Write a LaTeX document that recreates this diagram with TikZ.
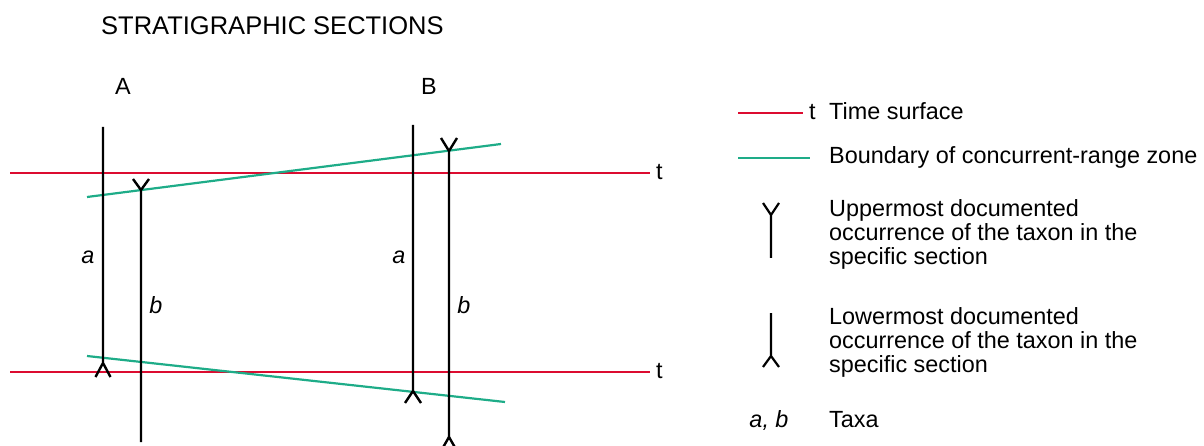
\documentclass[tikz,border=0pt]{standalone}
\usepackage{fontspec}
\setmainfont{Liberation Sans}
\definecolor{tred}{RGB}{220,12,48}
\definecolor{tgreen}{RGB}{30,172,136}
\begin{document}
\begin{tikzpicture}[x=1pt,y=-1pt,
  sect/.style={draw=black,line width=2.4pt},
  tline/.style={draw=tred,line width=2.2pt},
  bline/.style={draw=tgreen,line width=2.2pt},
  lbl/.style={inner sep=0pt,font=\fontsize{23.4}{24}\selectfont},
  tax/.style={lbl,font=\fontsize{23.4}{24}\selectfont\itshape},
  ttl/.style={inner sep=0pt,font=\fontsize{25.5}{26}\selectfont}]
\useasboundingbox (0,0) rectangle (1204,446);
\clip (0,0) rectangle (1204,446);
% title
\node[ttl,anchor=base west] (title) at (101,35) {STRATIGRAPHIC SECTIONS};
\node[lbl,anchor=base] (secA) at (123,95) {A};
\node[lbl,anchor=base] (secB) at (429,95) {B};
% time surfaces
\coordinate (t1l) at (10,173); \coordinate (t1r) at (650,173);
\coordinate (t2l) at (10,372); \coordinate (t2r) at (650,372);
\draw[tline] (t1l) -- (t1r);
\draw[tline] (t2l) -- (t2r);
\node[lbl,anchor=base west] (t1) at (656,179.5) {t};
\node[lbl,anchor=base west] (t2) at (656,378.5) {t};
% zone boundaries
\coordinate (g1l) at (87,197); \coordinate (g1r) at (501,144);
\coordinate (g2l) at (87,356); \coordinate (g2r) at (505,402);
\draw[bline] (g1l) -- (g1r);
\draw[bline] (g2l) -- (g2r);
% section A, taxon a
\coordinate (Aat) at (103,127); \coordinate (Aaj) at (103,363);
\draw[sect] (Aat) -- (Aaj) (95.5,377) -- (Aaj) -- (110.5,377);
% section A, taxon b
\coordinate (Abj) at (141,190); \coordinate (Abb) at (141,442);
\draw[sect] (Abb) -- (Abj) (133,179) -- (Abj) -- (149,179);
% section B, taxon a
\coordinate (Bat) at (413,125); \coordinate (Baj) at (413,391);
\draw[sect] (Bat) -- (Baj) (405,403) -- (Baj) -- (421,403);
% section B, taxon b
\coordinate (Bbj) at (449,151); \coordinate (Bbk) at (449,437);
\draw[sect] (Bbk) -- (Bbj) (441,138) -- (Bbj) -- (457,138);
\draw[sect] (441,451) -- (Bbk) -- (457,451);
% taxon labels
\node[tax,anchor=base] (Aa) at (88,264) {a};
\node[tax,anchor=base] (Ab) at (156,313) {b};
\node[tax,anchor=base] (Ba) at (399,264) {a};
\node[tax,anchor=base] (Bb) at (464,313) {b};
% legend
\coordinate (l1a) at (738,113); \coordinate (l1b) at (803,113);
\draw[tline] (l1a) -- (l1b);
\node[lbl,anchor=base west] (lt) at (809,119.5) {t};
\node[lbl,anchor=base west] (ltxt1) at (829,119.5) {Time surface};
\coordinate (l2a) at (738,158); \coordinate (l2b) at (810,158);
\draw[bline] (l2a) -- (l2b);
\node[lbl,anchor=base west] (ltxt2) at (829,164) {Boundary of concurrent-range zone};
\coordinate (l3j) at (771,215); \coordinate (l3b) at (771,258);
\draw[sect,line width=2.2pt] (l3b) -- (l3j) (763,203) -- (l3j) -- (779,203);
\node[lbl,anchor=north west,align=left] (ltxt3) at (829,199.5)
  {Uppermost documented\\occurrence of the taxon in the\\specific section};
\coordinate (l4t) at (771,313); \coordinate (l4j) at (771,356);
\draw[sect,line width=2.2pt] (l4t) -- (l4j) (763,367) -- (l4j) -- (779,367);
\node[lbl,anchor=north west,align=left] (ltxt4) at (829,307.5)
  {Lowermost documented\\occurrence of the taxon in the\\specific section};
\node[tax,anchor=base] (ltax) at (769,427) {a, b};
\node[lbl,anchor=base west] (ltxt5) at (829,427) {Taxa};
\end{tikzpicture}
\end{document}
